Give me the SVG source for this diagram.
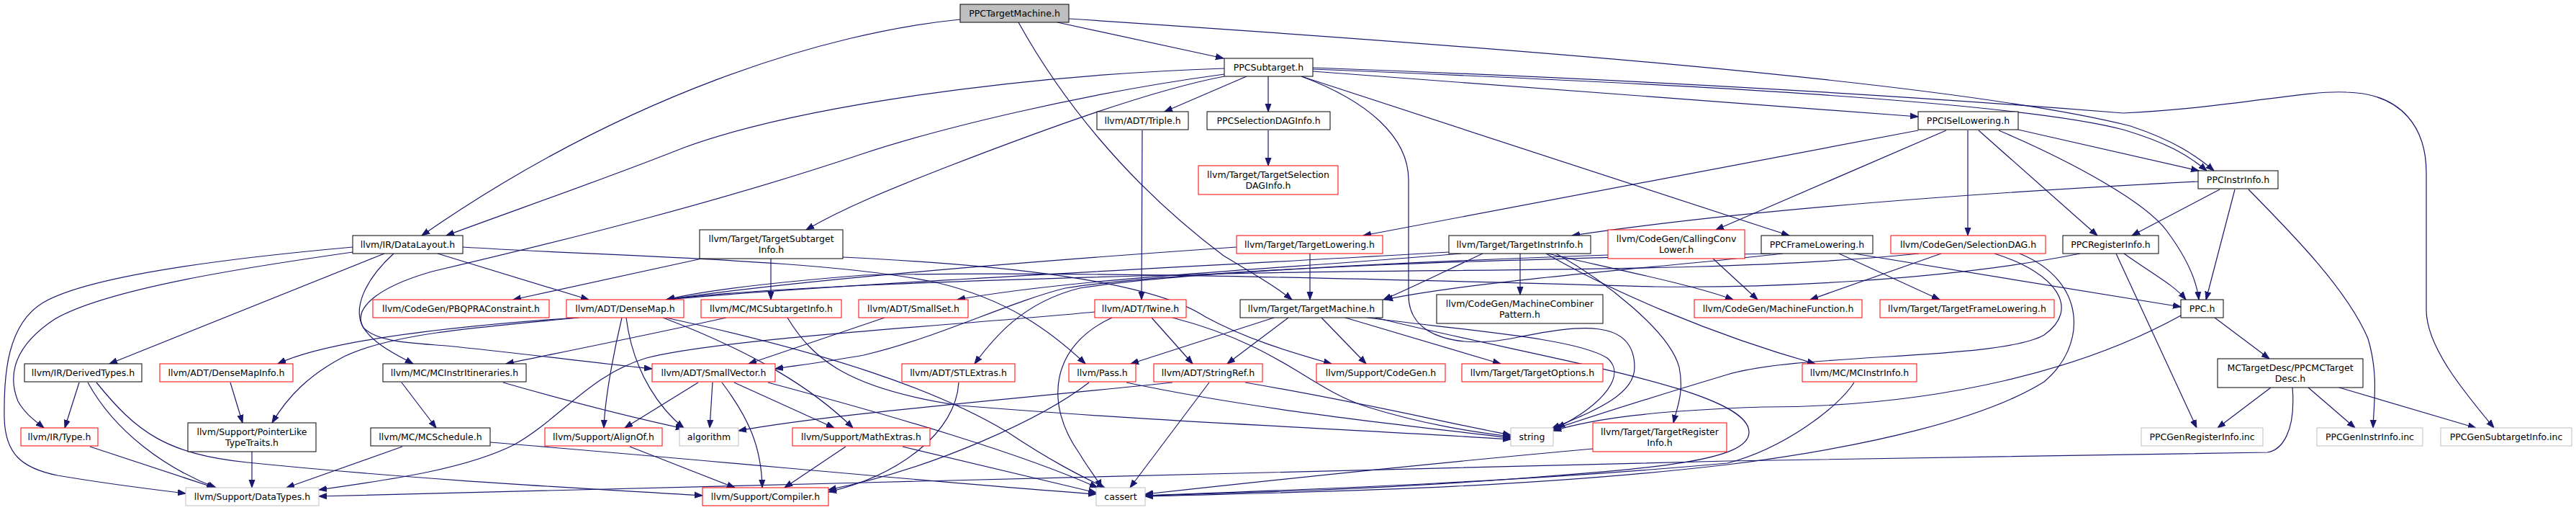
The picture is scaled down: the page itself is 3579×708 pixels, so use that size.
<svg xmlns="http://www.w3.org/2000/svg" width="3579" height="708" viewBox="0 0 3579 708">
<style>
.node rect{fill:#fff;stroke:#000;stroke-width:1}
.red rect{stroke:#ff0000}
.ext rect{stroke:#bfbfbf}
.root rect{fill:#bfbfbf}
text{font-family:"DejaVu Sans",sans-serif;font-size:12.5px;text-anchor:middle;fill:#000}
#edges path{fill:none;stroke:#191970;stroke-width:1.2;marker-end:url(#arr)}
</style>
<defs>
<marker id="arr" markerUnits="userSpaceOnUse" markerWidth="13" markerHeight="10" refX="11" refY="5" orient="auto">
<path d="M0,1 L11,5 L0,9 Z" fill="#191970" stroke="#191970" stroke-width="1"/>
</marker>
</defs>
<rect width="3579" height="708" fill="#fff"/>
<g id="edges">
<path d="M1469,31 L1700,81"/>
<path d="M1334,27 C1150,45 870,130 586,327"/>
<path d="M1701,95 C1400,105 1100,150 950,205 C850,245 720,290 620,327"/>
<path d="M1415,31 C1470,130 1560,250 1700,355 C1750,385 1775,400 1795,416"/>
<path d="M1485,26 C2000,60 2700,110 2960,175 C3020,195 3050,215 3076,237"/>
<path d="M1732,106 L1618,155"/>
<path d="M1762,106 L1762,155"/>
<path d="M1824,99 L2665,162"/>
<path d="M1824,96 C2300,115 2800,140 2950,180 C3010,198 3040,215 3066,237"/>
<path d="M1824,94 C2400,115 2800,145 2950,157 C3100,150 3200,125 3260,128 C3340,130 3371,180 3371,240 L3371,430 C3371,480 3420,540 3465,594"/>
<path d="M1701,106 C1600,125 1450,180 1320,230 C1230,265 1170,290 1120,319"/>
<path d="M1701,103 C1500,130 1300,180 1200,213 C1000,280 800,330 600,377 C520,400 490,430 505,455 C520,478 550,492 574,505"/>
<path d="M1808,106 C1900,140 1957,190 1957,250 L1957,410 C1957,470 2030,485 2110,468 C2190,452 2271,440 2271,510 C2271,550 2210,572 2156,595"/>
<path d="M1808,106 L2486,327"/>
<path d="M2665,181 L1894,327"/>
<path d="M2704,181 L2384,319"/>
<path d="M2734,181 L2734,327"/>
<path d="M2749,181 L2914,327"/>
<path d="M2804,180 L3055,237"/>
<path d="M2777,181 C2880,225 2980,280 3010,320 C3040,360 3052,390 3055,416"/>
<path d="M3084,263 L2962,327"/>
<path d="M3105,263 L3065,416"/>
<path d="M3124,263 C3180,320 3260,400 3290,470 C3305,520 3298,560 3297,594"/>
<path d="M3054,252 C2700,270 2400,295 2184,327"/>
<path d="M1762,181 L1762,230"/>
<path d="M1587,181 L1586,416"/>
<path d="M534,352 L152,505"/>
<path d="M490,350 C350,370 150,400 76,443 C20,480 10,520 25,557 C35,575 50,585 61,594"/>
<path d="M490,343 C300,360 120,385 60,420 C10,450 5,520 6,580 C7,630 30,650 80,660 C150,672 200,678 258,685"/>
<path d="M608,352 L818,416"/>
<path d="M547,352 C505,390 490,430 505,455 C525,475 570,476 620,480 C720,490 820,503 906,512"/>
<path d="M643,343 C850,356 1150,360 1300,392 C1400,415 1460,460 1508,505"/>
<path d="M975,359 L713,416"/>
<path d="M1071,359 L1071,416"/>
<path d="M1171,357 C1400,368 1600,390 1675,440 C1730,470 1790,488 1850,505"/>
<path d="M1820,352 L1820,416"/>
<path d="M1718,343 C1400,365 1100,390 926,416"/>
<path d="M2013,350 C1700,368 1150,395 926,416"/>
<path d="M2030,352 C1800,372 1500,385 1330,416"/>
<path d="M2060,352 C2000,380 1960,400 1922,416"/>
<path d="M2112,352 L2112,409"/>
<path d="M2150,352 C2250,375 2350,395 2408,416"/>
<path d="M2148,352 C2240,405 2380,465 2522,505"/>
<path d="M2162,352 C2230,390 2320,460 2333,510 C2340,545 2330,565 2325,587"/>
<path d="M2380,359 L2442,416"/>
<path d="M2234,354 C2000,362 1600,380 1480,400 C1400,420 1300,470 1200,493 C1150,502 1110,507 1077,512"/>
<path d="M2697,352 L2515,416"/>
<path d="M2666,352 C2400,380 2000,372 1700,380 C1300,390 1050,400 926,416"/>
<path d="M2771,352 C2860,380 2890,430 2840,465 C2780,500 2500,490 2400,520 C2300,550 2220,575 2158,596"/>
<path d="M2806,352 C2900,390 2900,480 2840,530 C2760,580 2600,620 2400,645 C2100,680 1800,683 1591,689"/>
<path d="M2890,352 C2700,390 2450,400 2300,398 C2000,390 1500,375 1200,382 C1100,390 980,402 926,416"/>
<path d="M2951,352 C2990,380 3020,395 3037,416"/>
<path d="M2940,352 L3052,594"/>
<path d="M2477,352 C2300,372 2050,390 1924,416"/>
<path d="M2555,352 L2695,416"/>
<path d="M2576,352 L3030,426"/>
<path d="M2460,352 C2100,360 1700,370 1500,400 C1420,420 1380,470 1354,505"/>
<path d="M1770,441 L1571,505"/>
<path d="M1790,441 L1705,505"/>
<path d="M1836,441 L1898,505"/>
<path d="M1869,441 L2085,505"/>
<path d="M1899,441 C2050,460 2190,470 2233,497 C2260,520 2230,560 2163,594"/>
<path d="M1911,441 C2150,500 2430,540 2430,600 C2430,640 2300,650 2100,665 C1900,680 1700,685 1591,688"/>
<path d="M1600,441 L1657,505"/>
<path d="M1545,441 C1460,480 1450,560 1500,630 C1515,655 1525,665 1530,677"/>
<path d="M1629,441 C1780,480 1820,540 1900,565 C1980,590 2050,600 2099,606"/>
<path d="M1521,433 C1350,450 1000,470 898,497 C820,520 780,580 715,617 C650,650 550,665 443,680"/>
<path d="M1629,531 C1400,555 1150,575 1026,598"/>
<path d="M1680,531 L1570,677"/>
<path d="M1730,531 C1900,560 2000,585 2099,604"/>
<path d="M1513,531 C1450,580 1300,650 1151,680"/>
<path d="M1565,531 C1750,570 1950,590 2099,608"/>
<path d="M1332,531 C1328,600 1250,660 1151,683"/>
<path d="M1175,620 L1090,677"/>
<path d="M1254,620 L1523,684"/>
<path d="M875,620 L1021,677"/>
<path d="M970,531 L868,594"/>
<path d="M990,531 L986,594"/>
<path d="M1003,531 C1040,580 1058,620 1059,677"/>
<path d="M1020,531 L1159,594"/>
<path d="M1067,531 C1250,580 1420,630 1525,677"/>
<path d="M800,441 C600,455 450,475 386,505"/>
<path d="M805,441 C650,455 540,465 478,495 C430,520 400,550 378,587"/>
<path d="M864,441 C850,500 840,560 839,594"/>
<path d="M870,441 C880,520 920,570 950,594"/>
<path d="M921,441 C1050,490 1130,540 1185,594"/>
<path d="M925,441 C1150,490 1300,540 1400,600 C1460,640 1500,660 1535,677"/>
<path d="M320,531 L337,587"/>
<path d="M350,627 L350,677"/>
<path d="M110,531 L90,594"/>
<path d="M122,531 C160,600 230,650 300,677"/>
<path d="M134,531 C190,600 230,630 344,642 C600,668 850,680 976,688"/>
<path d="M125,620 L298,677"/>
<path d="M558,531 L606,594"/>
<path d="M699,531 C800,560 880,580 950,595"/>
<path d="M559,620 L398,677"/>
<path d="M681,614 C1000,640 1300,670 1523,686"/>
<path d="M1009,441 C900,465 800,485 703,505"/>
<path d="M1094,441 C1130,500 1180,540 1334,563 C1600,585 1900,597 2099,610"/>
<path d="M1229,441 L1040,505"/>
<path d="M3077,441 L3153,498"/>
<path d="M3030,438 C2900,510 2700,565 2450,565 C2300,570 2220,580 2158,598"/>
<path d="M3155,538 L3081,594"/>
<path d="M3207,538 L3272,594"/>
<path d="M3250,538 L3440,594"/>
<path d="M3185,538 C3190,600 3170,625 3150,628 L2400,640 C2000,650 1600,660 1200,670 L443,689"/>
<path d="M2213,623 C1991,643 1800,663 1591,686"/>
<path d="M2576,531 C2553,567 2477,623 2400,643 C2100,670 1800,680 1591,688"/>
</g>
<g id="n0" class="node root"><rect x="1334" y="6" width="151" height="25"/><text x="1409.5" y="23">PPCTargetMachine.h</text></g>
<g id="n1" class="node"><rect x="1701" y="81" width="123" height="25"/><text x="1762.5" y="98">PPCSubtarget.h</text></g>
<g id="n2" class="node"><rect x="1524" y="155" width="127" height="25"/><text x="1587.5" y="172">llvm/ADT/Triple.h</text></g>
<g id="n3" class="node"><rect x="1677" y="155" width="171" height="25"/><text x="1762.5" y="172">PPCSelectionDAGInfo.h</text></g>
<g id="n4" class="node"><rect x="2665" y="155" width="139" height="25"/><text x="2734.5" y="172">PPCISelLowering.h</text></g>
<g id="n5" class="node red"><rect x="1665" y="230" width="194" height="40"/><text x="1762" y="247">llvm/Target/TargetSelection</text><text x="1762" y="261.5">DAGInfo.h</text></g>
<g id="n6" class="node"><rect x="3054" y="237" width="111" height="25"/><text x="3109.5" y="254">PPCInstrInfo.h</text></g>
<g id="n7" class="node"><rect x="490" y="327" width="153" height="25"/><text x="566.5" y="344">llvm/IR/DataLayout.h</text></g>
<g id="n8" class="node"><rect x="972" y="319" width="199" height="40"/><text x="1071.5" y="336">llvm/Target/TargetSubtarget</text><text x="1071.5" y="350.5">Info.h</text></g>
<g id="n9" class="node red"><rect x="1718" y="327" width="203" height="25"/><text x="1819.5" y="344">llvm/Target/TargetLowering.h</text></g>
<g id="n10" class="node"><rect x="2013" y="327" width="197" height="25"/><text x="2111.5" y="344">llvm/Target/TargetInstrInfo.h</text></g>
<g id="n11" class="node red"><rect x="2234" y="319" width="190" height="40"/><text x="2329" y="336">llvm/CodeGen/CallingConv</text><text x="2329" y="350.5">Lower.h</text></g>
<g id="n12" class="node"><rect x="2447" y="327" width="155" height="25"/><text x="2524.5" y="344">PPCFrameLowering.h</text></g>
<g id="n13" class="node red"><rect x="2627" y="327" width="215" height="25"/><text x="2734.5" y="344">llvm/CodeGen/SelectionDAG.h</text></g>
<g id="n14" class="node"><rect x="2866" y="327" width="133" height="25"/><text x="2932.5" y="344">PPCRegisterInfo.h</text></g>
<g id="n15" class="node red"><rect x="518" y="416" width="245" height="25"/><text x="640.5" y="433">llvm/CodeGen/PBQPRAConstraint.h</text></g>
<g id="n16" class="node red"><rect x="787" y="416" width="163" height="25"/><text x="868.5" y="433">llvm/ADT/DenseMap.h</text></g>
<g id="n17" class="node red"><rect x="974" y="416" width="195" height="25"/><text x="1071.5" y="433">llvm/MC/MCSubtargetInfo.h</text></g>
<g id="n18" class="node red"><rect x="1193" y="416" width="152" height="25"/><text x="1269" y="433">llvm/ADT/SmallSet.h</text></g>
<g id="n19" class="node red"><rect x="1521" y="416" width="127" height="25"/><text x="1584.5" y="433">llvm/ADT/Twine.h</text></g>
<g id="n20" class="node"><rect x="1723" y="416" width="198" height="25"/><text x="1822" y="433">llvm/Target/TargetMachine.h</text></g>
<g id="n21" class="node"><rect x="1996" y="409" width="231" height="40"/><text x="2111.5" y="426">llvm/CodeGen/MachineCombiner</text><text x="2111.5" y="440.5">Pattern.h</text></g>
<g id="n22" class="node red"><rect x="2354" y="416" width="233" height="25"/><text x="2470.5" y="433">llvm/CodeGen/MachineFunction.h</text></g>
<g id="n23" class="node red"><rect x="2612" y="416" width="242" height="25"/><text x="2733" y="433">llvm/Target/TargetFrameLowering.h</text></g>
<g id="n24" class="node"><rect x="3030" y="416" width="59" height="25"/><text x="3059.5" y="433">PPC.h</text></g>
<g id="n25" class="node"><rect x="34" y="505" width="163" height="25"/><text x="115.5" y="522">llvm/IR/DerivedTypes.h</text></g>
<g id="n26" class="node red"><rect x="222" y="505" width="185" height="25"/><text x="314.5" y="522">llvm/ADT/DenseMapInfo.h</text></g>
<g id="n27" class="node"><rect x="532" y="505" width="199" height="25"/><text x="631.5" y="522">llvm/MC/MCInstrItineraries.h</text></g>
<g id="n28" class="node red"><rect x="906" y="505" width="171" height="25"/><text x="991.5" y="522">llvm/ADT/SmallVector.h</text></g>
<g id="n29" class="node red"><rect x="1253" y="505" width="157" height="25"/><text x="1331.5" y="522">llvm/ADT/STLExtras.h</text></g>
<g id="n30" class="node red"><rect x="1485" y="505" width="93" height="25"/><text x="1531.5" y="522">llvm/Pass.h</text></g>
<g id="n31" class="node red"><rect x="1603" y="505" width="151" height="25"/><text x="1678.5" y="522">llvm/ADT/StringRef.h</text></g>
<g id="n32" class="node red"><rect x="1829" y="505" width="179" height="25"/><text x="1918.5" y="522">llvm/Support/CodeGen.h</text></g>
<g id="n33" class="node red"><rect x="2031" y="505" width="196" height="25"/><text x="2129" y="522">llvm/Target/TargetOptions.h</text></g>
<g id="n34" class="node red"><rect x="2504" y="505" width="159" height="25"/><text x="2583.5" y="522">llvm/MC/MCInstrInfo.h</text></g>
<g id="n35" class="node"><rect x="3081" y="498" width="202" height="40"/><text x="3182" y="515">MCTargetDesc/PPCMCTarget</text><text x="3182" y="529.5">Desc.h</text></g>
<g id="n36" class="node red"><rect x="29" y="594" width="107" height="25"/><text x="82.5" y="611">llvm/IR/Type.h</text></g>
<g id="n37" class="node"><rect x="261" y="587" width="178" height="40"/><text x="350" y="604">llvm/Support/PointerLike</text><text x="350" y="618.5">TypeTraits.h</text></g>
<g id="n38" class="node"><rect x="515" y="594" width="166" height="25"/><text x="598" y="611">llvm/MC/MCSchedule.h</text></g>
<g id="n39" class="node red"><rect x="757" y="594" width="163" height="25"/><text x="838.5" y="611">llvm/Support/AlignOf.h</text></g>
<g id="n40" class="node ext"><rect x="944" y="594" width="82" height="25"/><text x="985" y="611">algorithm</text></g>
<g id="n41" class="node red"><rect x="1101" y="594" width="191" height="25"/><text x="1196.5" y="611">llvm/Support/MathExtras.h</text></g>
<g id="n42" class="node ext"><rect x="2099" y="594" width="59" height="25"/><text x="2128.5" y="611">string</text></g>
<g id="n43" class="node red"><rect x="2213" y="587" width="186" height="40"/><text x="2306" y="604">llvm/Target/TargetRegister</text><text x="2306" y="618.5">Info.h</text></g>
<g id="n44" class="node ext"><rect x="2975" y="594" width="169" height="25"/><text x="3059.5" y="611">PPCGenRegisterInfo.inc</text></g>
<g id="n45" class="node ext"><rect x="3219" y="594" width="147" height="25"/><text x="3292.5" y="611">PPCGenInstrInfo.inc</text></g>
<g id="n46" class="node ext"><rect x="3391" y="594" width="182" height="25"/><text x="3482" y="611">PPCGenSubtargetInfo.inc</text></g>
<g id="n47" class="node ext"><rect x="258" y="677" width="185" height="25"/><text x="350.5" y="694">llvm/Support/DataTypes.h</text></g>
<g id="n48" class="node red"><rect x="976" y="677" width="175" height="25"/><text x="1063.5" y="694">llvm/Support/Compiler.h</text></g>
<g id="n49" class="node ext"><rect x="1523" y="677" width="68" height="25"/><text x="1557" y="694">cassert</text></g>
</svg>
